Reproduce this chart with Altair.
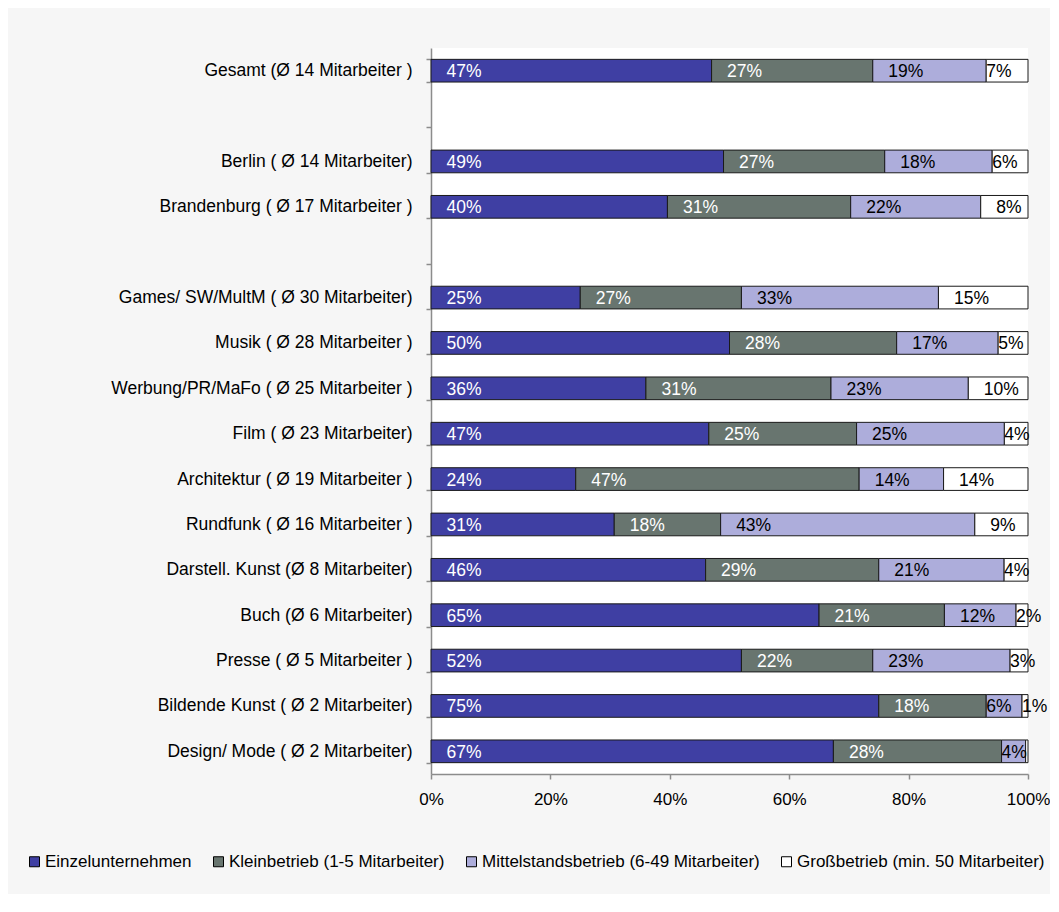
import altair as alt
import pandas as pd

categories = [
    "Gesamt (Ø 14 Mitarbeiter )",
    " ",
    "Berlin ( Ø 14 Mitarbeiter)",
    "Brandenburg ( Ø 17 Mitarbeiter )",
    "  ",
    "Games/ SW/MultM ( Ø 30 Mitarbeiter)",
    "Musik ( Ø 28 Mitarbeiter )",
    "Werbung/PR/MaFo ( Ø 25 Mitarbeiter )",
    "Film ( Ø 23 Mitarbeiter)",
    "Architektur ( Ø 19 Mitarbeiter )",
    "Rundfunk ( Ø 16 Mitarbeiter )",
    "Darstell. Kunst (Ø 8 Mitarbeiter)",
    "Buch (Ø 6 Mitarbeiter)",
    "Presse ( Ø 5 Mitarbeiter )",
    "Bildende Kunst ( Ø 2 Mitarbeiter)",
    "Design/ Mode ( Ø 2 Mitarbeiter)",
]

series_names = [
    "Einzelunternehmen",
    "Kleinbetrieb (1-5 Mitarbeiter)",
    "Mittelstandsbetrieb (6-49 Mitarbeiter)",
    "Großbetrieb (min. 50 Mitarbeiter)",
]
series_colors = ["#3F3FA3", "#68756F", "#ADADDB", "#FFFFFF"]

einzel = [47, None, 49, 40, None, 25, 50, 36, 47, 24, 31, 46, 65, 52, 75, 67]
klein = [27, None, 27, 31, None, 27, 28, 31, 25, 47, 18, 29, 21, 22, 18, 28]
mittel = [19, None, 18, 22, None, 33, 17, 23, 25, 14, 43, 21, 12, 23, 6, 4]
gross = [7, None, 6, 8, None, 15, 5, 10, 4, 14, 9, 4, 2, 3, 1, 0.4]

x_ticks = [0, 20, 40, 60, 80, 100]

rows = []
all_series = [einzel, klein, mittel, gross]
for i, cat in enumerate(categories):
    vals = [s[i] for s in all_series]
    if any(v is None for v in vals):
        continue
    total = sum(vals)
    cum = 0.0
    for k, v in enumerate(vals):
        start = cum / total * 100
        cum += v
        end = cum / total * 100
        rows.append({
            "cat": cat,
            "series": series_names[k],
            "idx": k,
            "value": v,
            "label": f"{round(v)}%",
            "start": start,
            "end": end,
        })
df = pd.DataFrame(rows)

FONT = "Liberation Sans"
AX = "#8c8c8c"

y_enc = alt.Y(
    "cat:N",
    scale=alt.Scale(domain=categories, paddingInner=0.5, paddingOuter=0.25),
    axis=alt.Axis(
        title=None, tickBand="extent", domainColor=AX, tickColor=AX, tickSize=5,
        labelPadding=14, labelFontSize=17.5, labelColor="black", labelFont=FONT,
        labelLimit=400, domainWidth=1.5, tickWidth=1.5,
    ),
)

x_scale = alt.Scale(domain=[0, 100], nice=False)

bars = alt.Chart(df).mark_bar(stroke="#1a1a1a", strokeWidth=1).encode(
    x=alt.X(
        "start:Q", scale=x_scale,
        axis=alt.Axis(
            title=None, values=x_ticks, labelExpr="datum.value + '%'", grid=False,
            tickSize=5, labelPadding=12, labelFlush=False, domainColor=AX,
            tickColor=AX, labelFontSize=17, labelColor="black", labelFont=FONT,
            domainWidth=1.5, tickWidth=1.5,
        ),
    ),
    x2="end:Q",
    y=y_enc,
    color=alt.Color(
        "series:N",
        scale=alt.Scale(domain=series_names, range=series_colors),
        legend=alt.Legend(
            title=None, orient="none", direction="horizontal", legendX=-405,
            legendY=805, symbolType="square", symbolSize=100,
            symbolStrokeColor="black", symbolStrokeWidth=1, labelFontSize=17,
            labelFont=FONT, labelColor="black", columnPadding=18, labelOffset=2,
            padding=0, labelLimit=500,
        ),
    ),
)

text_color = alt.condition("datum.idx < 2", alt.value("white"), alt.value("black"))

labels_wide = alt.Chart(df).transform_filter("datum.value >= 7.5").mark_text(
    align="left", baseline="middle", dx=15.5, dy=1.5, fontSize=17.5, font=FONT
).encode(x=alt.X("start:Q", scale=x_scale), y=alt.Y("cat:N", scale=alt.Scale(domain=categories)), text="label:N", color=text_color)

labels_narrow = alt.Chart(df).transform_filter("datum.value >= 0.5 && datum.value < 7.5").mark_text(
    align="left", baseline="middle", dx=0, dy=1.5, fontSize=17.5, font=FONT
).encode(x=alt.X("start:Q", scale=x_scale), y=alt.Y("cat:N", scale=alt.Scale(domain=categories)), text="label:N", color=text_color)

chart = alt.layer(bars, labels_wide, labels_narrow).properties(
    width=597,
    height=726,
    padding={"left": 423, "top": 40, "right": 22, "bottom": 120},
    autosize=alt.AutoSizeParams(type="none"),
    background="#f6f6f6",
).configure_view(fill="white", stroke=None)

chart.save("out.html", embed_options={"renderer": "svg", "actions": False})
